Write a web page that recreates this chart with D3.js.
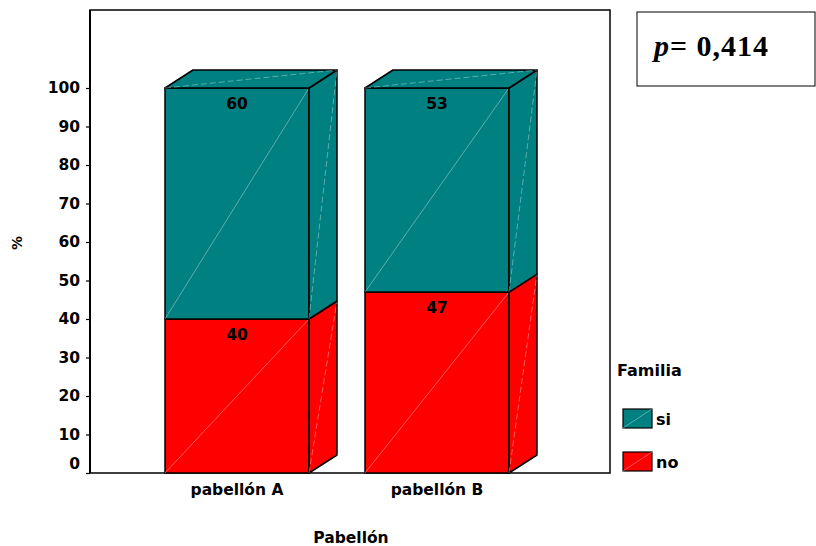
<!DOCTYPE html>
<html><head><meta charset="utf-8">
<script src="https://cdn.jsdelivr.net/npm/d3@7/dist/d3.min.js"></script>
<style>body{margin:0;background:#fff}svg{display:block}</style>
</head><body>
<svg id="chart" width="816" height="546"></svg>
<script>
// Stacked 100% bars (3D look) by ward
const categories = ["pabellón A", "pabellón B"];
const seriesNames = ["no", "si"];
const noValues = [40, 47];
const siValues = [60, 53];
const yTicks = [0, 10, 20, 30, 40, 50, 60, 70, 80, 90, 100];
const seriesColors = {no: "#ff0000", si: "#008080"};
const pLabel = "0,414";

const svg = d3.select("#chart");
const frame = {left: 90, top: 10, right: 610, bottom: 473};
const y = d3.scaleLinear().domain([0, 100]).range([473, 88]);
const x = d3.scaleBand().domain(categories).range([137, 537]).paddingInner(0.28).paddingOuter(0.14);
const depth = {dx: 28, dy: -18};
const font = "'DejaVu Sans', Verdana, sans-serif";

// plot frame
svg.append("rect").attr("x", frame.left).attr("y", frame.top)
  .attr("width", frame.right - frame.left).attr("height", frame.bottom - frame.top)
  .attr("fill", "none").attr("stroke", "#000").attr("stroke-width", 1.5);

// y axis
const yAxis = svg.append("g").attr("transform", `translate(${frame.left},0)`)
  .call(d3.axisLeft(y).tickValues(yTicks).tickSize(4).tickPadding(6));
yAxis.select(".domain").remove();
yAxis.selectAll("line").attr("stroke", "#000").attr("stroke-width", 1.2);
yAxis.selectAll("text").attr("font-family", font).attr("font-weight", "bold")
  .attr("font-size", 15.5).attr("fill", "#000").attr("dy", "0.3em");
// the zero label sits a little above the baseline
yAxis.selectAll(".tick").filter(d => d === 0).select("text").attr("dy", "-0.3em");
svg.append("line").attr("x1", frame.left).attr("x2", frame.left)
  .attr("y1", frame.top).attr("y2", frame.bottom).attr("stroke", "#000").attr("stroke-width", 2);

// x axis labels
const xAxis = svg.append("g").attr("transform", `translate(0,${frame.bottom})`)
  .call(d3.axisBottom(x).tickSize(0).tickPadding(11));
xAxis.select(".domain").remove();
xAxis.selectAll("text").attr("font-family", font).attr("font-weight", "bold")
  .attr("font-size", 15.5).attr("fill", "#000");

// stacked data
const rows = categories.map((c, i) => ({cat: c, no: noValues[i], si: siValues[i]}));
const stack = d3.stack().keys(seriesNames)(rows);

const bars = svg.append("g");
stack.forEach(layer => {
  const key = layer.key;
  layer.forEach(d => {
    const x0 = x(d.data.cat), x1 = x0 + x.bandwidth();
    const yb = y(d[0]), yt = y(d[1]);
    const g = bars.append("g");
    const col = seriesColors[key];
    // front face
    g.append("rect").attr("x", x0).attr("y", yt).attr("width", x1 - x0).attr("height", yb - yt)
      .attr("fill", col).attr("stroke", "#000").attr("stroke-width", 1.5);
    g.append("line").attr("x1", x0).attr("y1", yb).attr("x2", x1).attr("y2", yt)
      .attr("stroke", "#fff").attr("stroke-opacity", 0.45).attr("stroke-width", 0.8);
    // side face
    const side = [[x1, yb], [x1 + depth.dx, yb + depth.dy], [x1 + depth.dx, yt + depth.dy], [x1, yt]];
    g.append("path").attr("d", d3.line()(side) + "Z")
      .attr("fill", col).attr("stroke", "#000").attr("stroke-width", 1.5).attr("stroke-linejoin", "round");
    g.append("line").attr("x1", x1).attr("y1", yb).attr("x2", x1 + depth.dx).attr("y2", yt + depth.dy)
      .attr("stroke", "#fff").attr("stroke-opacity", 0.45).attr("stroke-width", 0.8)
      .attr("stroke-dasharray", "6,3");
    // top face on the highest segment
    if (d[1] === 100) {
      const top = [[x0, yt], [x0 + depth.dx, yt + depth.dy], [x1 + depth.dx, yt + depth.dy], [x1, yt]];
      g.append("path").attr("d", d3.line()(top) + "Z")
        .attr("fill", col).attr("stroke", "#000").attr("stroke-width", 1.5).attr("stroke-linejoin", "round");
      g.append("line").attr("x1", x0).attr("y1", yt).attr("x2", x1 + depth.dx).attr("y2", yt + depth.dy)
        .attr("stroke", "#fff").attr("stroke-opacity", 0.45).attr("stroke-width", 0.8)
        .attr("stroke-dasharray", "6,3");
    }
    // value label
    g.append("text").attr("x", (x0 + x1) / 2).attr("y", yt + 21)
      .attr("text-anchor", "middle").attr("font-family", font).attr("font-weight", "bold")
      .attr("font-size", 15.5).attr("fill", "#000").text(d[1] - d[0]);
  });
});

// axis titles
svg.append("text").attr("x", 351).attr("y", 543).attr("text-anchor", "middle")
  .attr("font-family", font).attr("font-weight", "bold").attr("font-size", 15.5).text("Pabellón");
svg.append("text").attr("transform", "translate(22,243) rotate(-90)").attr("text-anchor", "middle")
  .attr("font-family", font).attr("font-weight", "bold").attr("font-size", 14).text("%");

// legend
const legend = svg.append("g");
legend.append("text").attr("x", 617).attr("y", 376).attr("font-family", font)
  .attr("font-weight", "bold").attr("font-size", 16).text("Familia");
["si", "no"].forEach((k, i) => {
  const ly = 409 + i * 43;
  legend.append("rect").attr("x", 623).attr("y", ly).attr("width", 29).attr("height", 19)
    .attr("fill", seriesColors[k]).attr("stroke", "#000").attr("stroke-width", 1.2);
  legend.append("line").attr("x1", 623).attr("y1", ly + 19).attr("x2", 652).attr("y2", ly)
    .attr("stroke", "#fff").attr("stroke-opacity", 0.45).attr("stroke-width", 0.8);
  legend.append("text").attr("x", 656).attr("y", ly + 16).attr("font-family", font)
    .attr("font-weight", "bold").attr("font-size", 16).text(k);
});

// p-value box
svg.append("rect").attr("x", 637).attr("y", 12).attr("width", 178).attr("height", 74)
  .attr("fill", "#fff").attr("stroke", "#000").attr("stroke-width", 1);
const pt = svg.append("text").attr("x", 654).attr("y", 56)
  .attr("font-family", "'Liberation Serif', 'Times New Roman', serif").attr("font-weight", "bold")
  .attr("font-size", 30).attr("letter-spacing", 1);
pt.append("tspan").attr("font-style", "italic").text("p");
pt.append("tspan").text("= " + pLabel);
</script>
</body></html>
